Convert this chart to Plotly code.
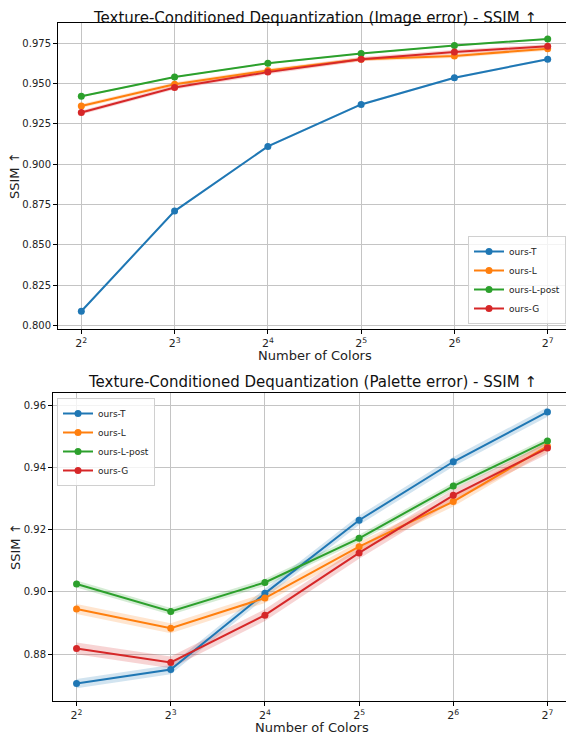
import math
import plotly.graph_objects as go

colors_n = [4, 8, 16, 32, 64, 128]
tick_text = ["2<sup>2</sup>", "2<sup>3</sup>", "2<sup>4</sup>", "2<sup>5</sup>", "2<sup>6</sup>", "2<sup>7</sup>"]
series_names = ["ours-T", "ours-L", "ours-L-post", "ours-G"]
series_colors = ["#1f77b4", "#ff7f0e", "#2ca02c", "#d62728"]

# Image error SSIM
img_T = [0.809, 0.871, 0.911, 0.937, 0.9535, 0.965]
img_L = [0.936, 0.9495, 0.958, 0.965, 0.967, 0.9715]
img_Lp = [0.942, 0.954, 0.9625, 0.9685, 0.9735, 0.9775]
img_G = [0.932, 0.9475, 0.957, 0.965, 0.9695, 0.973]
img_band = [0.0007, 0.0012, 0.0005, 0.0013]

# Palette error SSIM
pal_T = [0.8705, 0.875, 0.8995, 0.923, 0.9418, 0.9578]
pal_L = [0.8945, 0.8883, 0.898, 0.9145, 0.929, 0.9468]
pal_Lp = [0.9025, 0.8937, 0.903, 0.9172, 0.934, 0.9485]
pal_G = [0.8818, 0.8773, 0.8925, 0.9125, 0.931, 0.9462]
pal_band = [0.0015, 0.0016, 0.0011, 0.0019]

img_series = [img_T, img_L, img_Lp, img_G]
pal_series = [pal_T, pal_L, pal_Lp, pal_G]

# the page body has an 8px default margin, so the figure starts at (8, 8)
OFF = 8
W, H = 574 - OFF, 736 - OFF
TOP_BOX = (58, 571, 23, 329)     # left, right, top, bottom in window px
BOT_BOX = (53, 571, 393, 701)


def rgba(hexc, a):
    h = hexc.lstrip("#")
    r, g, b = int(h[0:2], 16), int(h[2:4], 16), int(h[4:6], 16)
    return f"rgba({r},{g},{b},{a})"


def px_x(v):
    return (v - OFF) / W


def px_y(v):
    return (H - (v - OFF)) / H


fig = go.Figure()


def add_panel(series, bands, xa, ya, legend):
    for name, vals, c, bw in zip(series_names, series, series_colors, bands):
        up = [v + bw for v in vals]
        lo = [v - bw for v in vals]
        fig.add_trace(go.Scatter(x=colors_n, y=up, mode="lines", line=dict(width=0, color=c),
                                 showlegend=False, hoverinfo="skip", xaxis=xa, yaxis=ya))
        fig.add_trace(go.Scatter(x=colors_n, y=lo, mode="lines", line=dict(width=0, color=c),
                                 fill="tonexty", fillcolor=rgba(c, 0.2),
                                 showlegend=False, hoverinfo="skip", xaxis=xa, yaxis=ya))
    for name, vals, c in zip(series_names, series, series_colors):
        fig.add_trace(go.Scatter(x=colors_n, y=vals, mode="lines+markers", name=name,
                                 line=dict(color=c, width=2), marker=dict(color=c, size=7),
                                 xaxis=xa, yaxis=ya, legend=legend))


add_panel(img_series, img_band, "x", "y", "legend")
add_panel(pal_series, pal_band, "x2", "y2", "legend2")

xr = [1.75 * math.log10(2), 7.25 * math.log10(2)]
axis_common = dict(type="log", range=xr, tickvals=colors_n, ticktext=tick_text,
                   showgrid=True, gridcolor="#c4c4c4", gridwidth=1, zeroline=False,
                   showline=True, linecolor="black", linewidth=1, mirror=True,
                   ticks="outside", ticklen=4, tickcolor="black", automargin=False,
                   tickfont=dict(size=11, color="#222"))
yaxis_common = dict(showgrid=True, gridcolor="#c4c4c4", gridwidth=1, zeroline=False,
                    showline=True, linecolor="black", linewidth=1, mirror=True,
                    ticks="outside", ticklen=4, tickcolor="black", automargin=False,
                    tickfont=dict(size=10, color="#222"))

legend_common = dict(bgcolor="rgba(255,255,255,0.8)", bordercolor="#d0d0d0", borderwidth=1,
                     font=dict(size=9, color="#222"), tracegroupgap=0, itemwidth=30,
                     traceorder="normal")

title_font = dict(size=15, color="#111")
label_font = dict(size=13, color="#222")

fig.update_layout(
    width=W, height=H,
    margin=dict(l=0, r=0, t=0, b=0, autoexpand=False),
    paper_bgcolor="white", plot_bgcolor="white",
    font=dict(family="DejaVu Sans", color="#222"),
    showlegend=True,
    xaxis=dict(axis_common, domain=[px_x(TOP_BOX[0]), px_x(TOP_BOX[1])], anchor="y"),
    yaxis=dict(yaxis_common, domain=[px_y(TOP_BOX[3]), px_y(TOP_BOX[2])], anchor="x",
               range=[0.798, 0.9874], tickvals=[0.8, 0.825, 0.85, 0.875, 0.9, 0.925, 0.95, 0.975],
               tickformat=".3f"),
    xaxis2=dict(axis_common, domain=[px_x(BOT_BOX[0]), px_x(BOT_BOX[1])], anchor="y2"),
    yaxis2=dict(yaxis_common, domain=[px_y(BOT_BOX[3]), px_y(BOT_BOX[2])], anchor="x2",
                range=[0.8649, 0.9639], tickvals=[0.88, 0.9, 0.92, 0.94, 0.96],
                tickformat=".2f"),
    legend=dict(legend_common, x=px_x(566), y=px_y(324), xanchor="right", yanchor="bottom"),
    legend2=dict(legend_common, x=px_x(57), y=px_y(398), xanchor="left", yanchor="top"),
    annotations=[
        dict(text="Texture-Conditioned Dequantization (Image error) - SSIM ↑", xref="paper", yref="paper",
             x=px_x((TOP_BOX[0] + TOP_BOX[1]) / 2), y=1.0, showarrow=False, font=title_font,
             xanchor="center", yanchor="top", borderpad=0),
        dict(text="Texture-Conditioned Dequantization (Palette error) - SSIM ↑", xref="paper", yref="paper",
             x=px_x((BOT_BOX[0] + BOT_BOX[1]) / 2), y=px_y(382), showarrow=False, font=title_font,
             xanchor="center", yanchor="middle"),
        dict(text="Number of Colors", xref="paper", yref="paper",
             x=px_x((TOP_BOX[0] + TOP_BOX[1]) / 2), y=px_y(355), showarrow=False, font=label_font,
             xanchor="center", yanchor="middle"),
        dict(text="Number of Colors", xref="paper", yref="paper",
             x=px_x((BOT_BOX[0] + BOT_BOX[1]) / 2), y=px_y(727), showarrow=False, font=label_font,
             xanchor="center", yanchor="middle"),
        dict(text="SSIM ↑", xref="paper", yref="paper", textangle=-90,
             x=px_x(15), y=px_y((TOP_BOX[2] + TOP_BOX[3]) / 2), showarrow=False, font=label_font,
             xanchor="center", yanchor="middle"),
        dict(text="SSIM ↑", xref="paper", yref="paper", textangle=-90,
             x=px_x(15), y=px_y((BOT_BOX[2] + BOT_BOX[3]) / 2), showarrow=False, font=label_font,
             xanchor="center", yanchor="middle"),
    ],
)

fig.write_html("out.html")
